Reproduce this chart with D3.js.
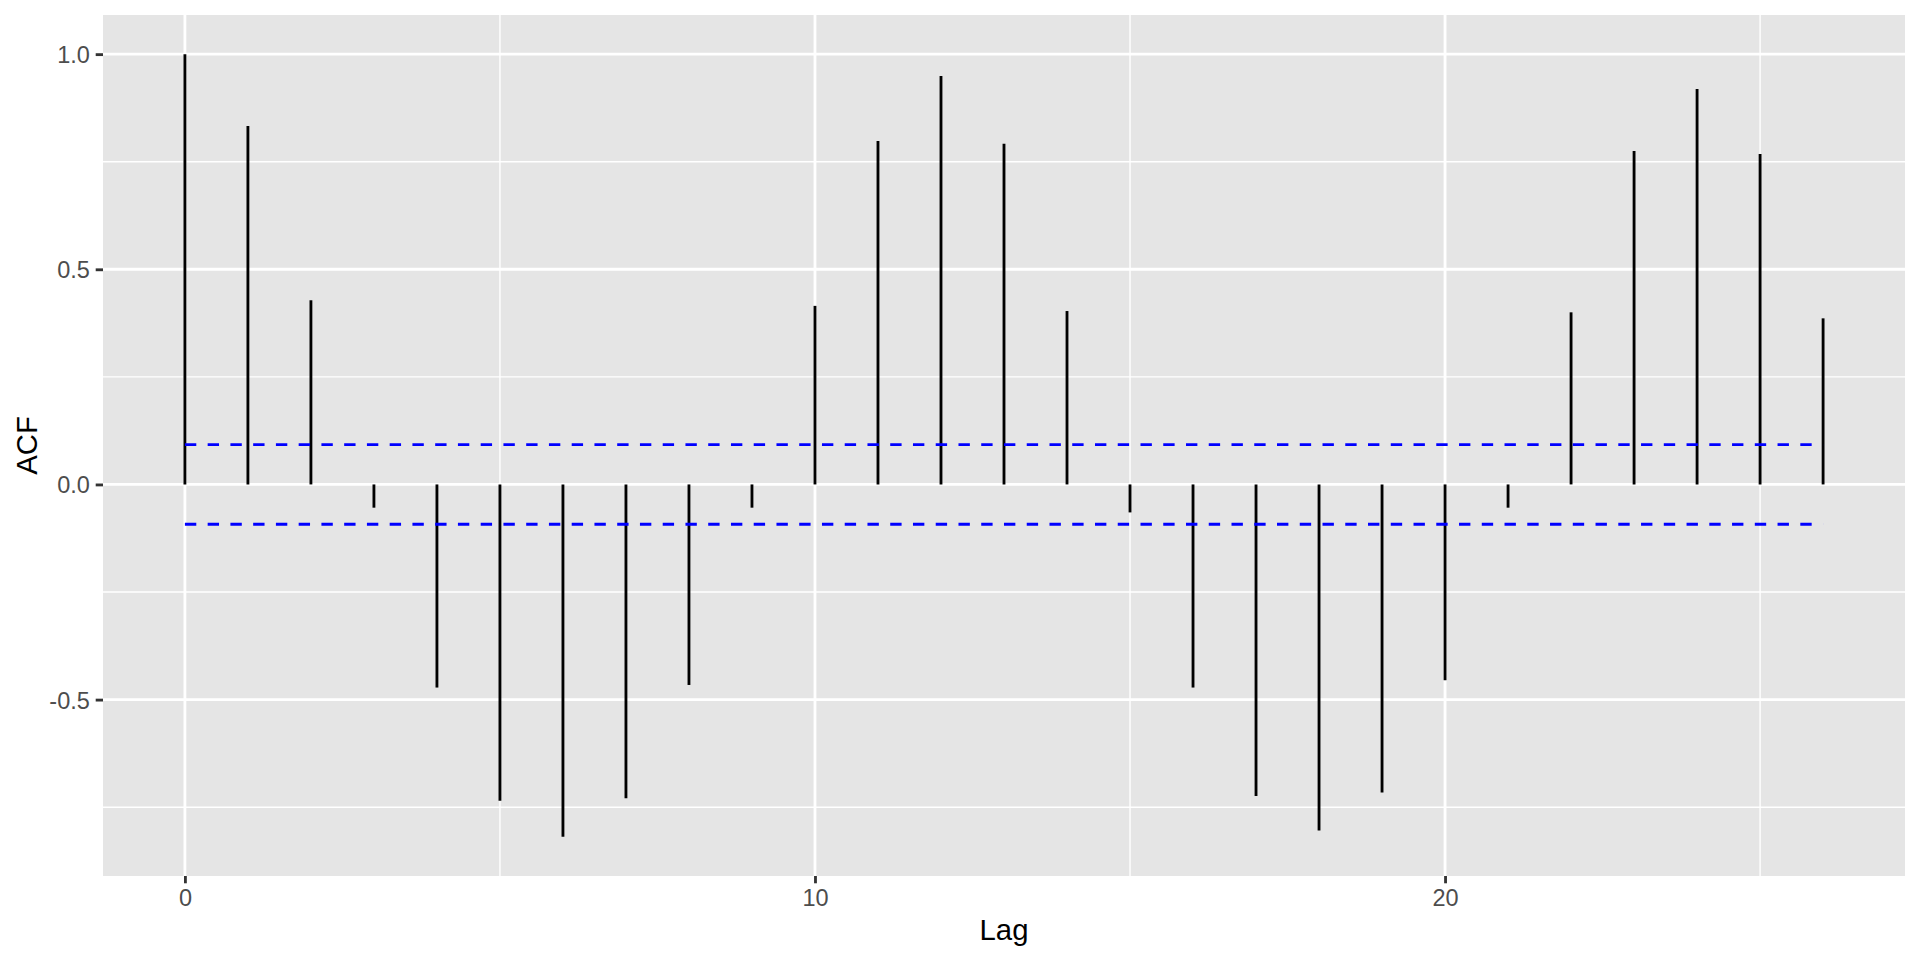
<!DOCTYPE html>
<html>
<head>
<meta charset="utf-8">
<script src="https://cdn.jsdelivr.net/npm/d3@7"></script>
<style>
  html, body { margin: 0; padding: 0; background: #fff; }
  svg { display: block; font-family: "Liberation Sans", Arial, Helvetica, sans-serif; }
</style>
</head>
<body>
<svg id="chart" width="1920" height="960"></svg>
<script>
// ---- data ----
const lags = [0,1,2,3,4,5,6,7,8,9,10,11,12,13,14,15,16,17,18,19,20,21,22,23,24,25,26];
const acfValues = [1.0, 0.833, 0.428, -0.054, -0.472, -0.735, -0.819, -0.729, -0.466, -0.054,
                   0.415, 0.798, 0.949, 0.792, 0.403, -0.065, -0.472, -0.724, -0.804, -0.716,
                   -0.455, -0.054, 0.400, 0.775, 0.919, 0.768, 0.386];
const ciBound = 0.0925;
const xTicks = [0, 10, 20];
const xMinor = [5, 15, 25];
const yTicks = [-0.5, 0.0, 0.5, 1.0];
const yTickLabels = ["-0.5", "0.0", "0.5", "1.0"];
const yMinor = [-0.75, -0.25, 0.25, 0.75];
const xTitle = "Lag";
const yTitle = "ACF";

// ---- layout ----
const svg = d3.select("#chart");
const panel = { left: 103, right: 1905, top: 15, bottom: 876 };

const xMin = d3.min(lags), xMax = d3.max(lags);
const xPad = (xMax - xMin) * 0.05;
const yMin = d3.min(acfValues), yMax = d3.max(acfValues);
const yPad = (yMax - yMin) * 0.05;

const x = d3.scaleLinear().domain([xMin - xPad, xMax + xPad]).range([panel.left, panel.right]);
const y = d3.scaleLinear().domain([yMin - yPad, yMax + yPad]).range([panel.bottom, panel.top]);

const majorW = 2.84, minorW = 1.42;

// panel background
svg.append("rect")
  .attr("x", panel.left).attr("y", panel.top)
  .attr("width", panel.right - panel.left).attr("height", panel.bottom - panel.top)
  .attr("fill", "#E5E5E5");

const grid = svg.append("g");
// minor grid
grid.selectAll("line.ymin").data(yMinor).enter().append("line")
  .attr("x1", panel.left).attr("x2", panel.right)
  .attr("y1", d => y(d)).attr("y2", d => y(d))
  .attr("stroke", "#fff").attr("stroke-width", minorW);
grid.selectAll("line.xmin").data(xMinor).enter().append("line")
  .attr("y1", panel.top).attr("y2", panel.bottom)
  .attr("x1", d => x(d)).attr("x2", d => x(d))
  .attr("stroke", "#fff").attr("stroke-width", minorW);
// major grid
grid.selectAll("line.ymaj").data(yTicks).enter().append("line")
  .attr("x1", panel.left).attr("x2", panel.right)
  .attr("y1", d => y(d)).attr("y2", d => y(d))
  .attr("stroke", "#fff").attr("stroke-width", majorW);
grid.selectAll("line.xmaj").data(xTicks).enter().append("line")
  .attr("y1", panel.top).attr("y2", panel.bottom)
  .attr("x1", d => x(d)).attr("x2", d => x(d))
  .attr("stroke", "#fff").attr("stroke-width", majorW);

// stems
svg.append("g").selectAll("line").data(lags).enter().append("line")
  .attr("x1", d => x(d)).attr("x2", d => x(d))
  .attr("y1", y(0)).attr("y2", (d, i) => y(acfValues[i]))
  .attr("stroke", "#000").attr("stroke-width", majorW);

// confidence bounds
const dashLen = 11.376;
svg.append("g").selectAll("line").data([ciBound, -ciBound]).enter().append("line")
  .attr("x1", x(xMin)).attr("x2", x(xMax))
  .attr("y1", d => y(d)).attr("y2", d => y(d))
  .attr("stroke", "#0000FF").attr("stroke-width", majorW)
  .attr("stroke-dasharray", `${dashLen} ${dashLen}`);

// axes
const tickLen = 7.3;
const yAxis = d3.axisLeft(y).tickValues(yTicks)
  .tickFormat((d, i) => yTickLabels[i]).tickSize(tickLen).tickPadding(5.9);
const gy = svg.append("g").attr("transform", `translate(${panel.left},0)`).call(yAxis);
gy.select(".domain").remove();
gy.selectAll(".tick line").attr("stroke", "#333333").attr("stroke-width", majorW);
gy.selectAll(".tick text").attr("fill", "#4D4D4D").attr("font-size", "23.5px")
  .attr("font-family", "Liberation Sans, Arial, sans-serif").attr("dy", "0.36em");

const xAxis = d3.axisBottom(x).tickValues(xTicks).tickFormat(d3.format("d"))
  .tickSize(tickLen).tickPadding(5.9);
const gx = svg.append("g").attr("transform", `translate(0,${panel.bottom})`).call(xAxis);
gx.select(".domain").remove();
gx.selectAll(".tick line").attr("stroke", "#333333").attr("stroke-width", majorW);
gx.selectAll(".tick text").attr("fill", "#4D4D4D").attr("font-size", "23.5px")
  .attr("font-family", "Liberation Sans, Arial, sans-serif").attr("dy", "0.72em");

// titles
svg.append("text")
  .attr("x", (panel.left + panel.right) / 2).attr("y", 940)
  .attr("text-anchor", "middle").attr("font-size", "29.3px").attr("fill", "#000")
  .text(xTitle);
svg.append("text")
  .attr("transform", `translate(36.5,${(panel.top + panel.bottom) / 2}) rotate(-90)`)
  .attr("text-anchor", "middle").attr("font-size", "29.3px").attr("fill", "#000")
  .text(yTitle);
</script>
</body>
</html>
